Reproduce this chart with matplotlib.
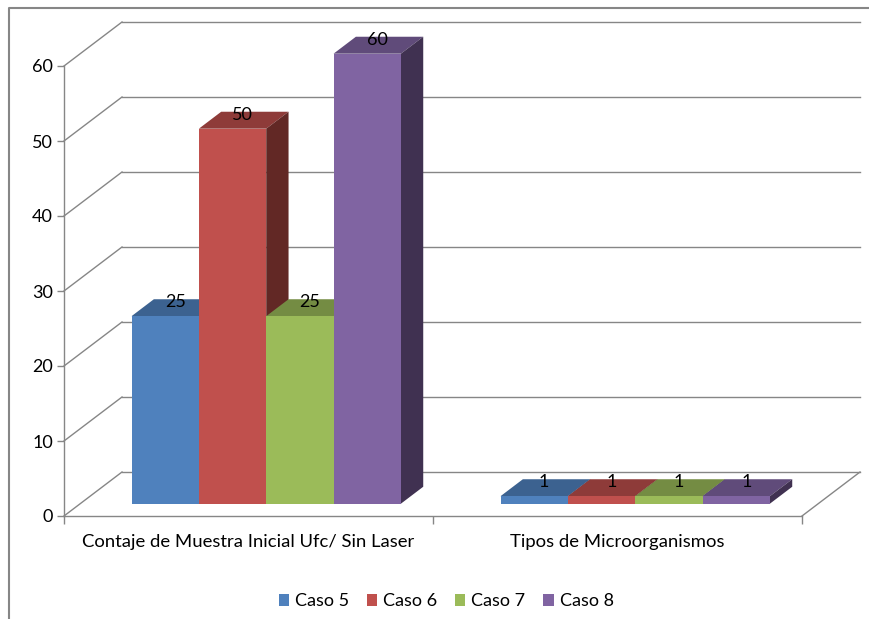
import matplotlib
matplotlib.use('Agg')
import matplotlib.pyplot as plt
from matplotlib.patches import Patch
import numpy as np

categories = ['Contaje de Muestra Inicial Ufc/ Sin Laser', 'Tipos de Microorganismos']
series_names = ['Caso 5', 'Caso 6', 'Caso 7', 'Caso 8']
caso_5 = [25, 1]
caso_6 = [50, 1]
caso_7 = [25, 1]
caso_8 = [60, 1]
yticks = [0, 10, 20, 30, 40, 50, 60]

front_colors = ['#4F81BD', '#C0504D', '#9BBB59', '#8064A2']
top_colors = ['#3C6290', '#8E3B39', '#748C43', '#604B7A']
side_colors = ['#2F4C70', '#622825', '#4F5F2D', '#403151']
LINE = '#868686'

plt.rcParams['font.family'] = ['Lato', 'DejaVu Sans']

W, H = 869, 619
X0, X1, Y0, Y1 = 64, 802, 516, 66  # front plane of the plot box, in pixels
fig = plt.figure(figsize=(W / 100, H / 100), dpi=100)
ax = fig.add_axes([X0 / W, 1 - Y0 / H, (X1 - X0) / W, (Y0 - Y1) / H])
ax.set_xlim(0, len(categories))
ax.set_ylim(0, 60)

# oblique projection: depth 0 is the front plane, depth 1 the back wall
DX = 58 * len(categories) / (X1 - X0)
DY = 44 * 60 / (Y0 - Y1)


def project(x, y, depth):
    return x + depth * DX, y + depth * DY


# back wall gridlines and their diagonals on the left side wall
for v in yticks:
    bx, by = project(0, v, 1)
    ax.plot([0, bx], [v, by], color=LINE, lw=1, clip_on=False, zorder=1)
    ax.plot([bx, project(len(categories), v, 1)[0]], [by, by], color=LINE, lw=1,
            clip_on=False, zorder=1)
ex, ey = project(len(categories), 0, 1)
ax.plot([len(categories), ex], [0, ey], color=LINE, lw=1, clip_on=False, zorder=1)

# 3D bars: front face from ax.bar, then top and side faces
bar_w = 0.1825
gap = 0.139
d_front, d_back = 0.28, 0.665
all_series = [caso_5, caso_6, caso_7, caso_8]
z = 3
for s, values in enumerate(all_series):
    for c, v in enumerate(values):
        left = c + gap + s * bar_w
        right = left + bar_w
        fx, fy = project(left, 0, d_front)
        ax.bar(fx, v, bar_w, bottom=fy, align='edge', color=front_colors[s], zorder=z + 1,
               clip_on=False)
        lf = project(left, v, d_front)
        rf = project(right, v, d_front)
        lb = project(left, v, d_back)
        rb = project(right, v, d_back)
        rf0 = project(right, 0, d_front)
        rb0 = project(right, 0, d_back)
        ax.fill(*zip(lf, rf, rb, lb), color=top_colors[s], lw=0, zorder=z, clip_on=False)
        ax.fill(*zip(rf0, rf, rb, rb0), color=side_colors[s], lw=0, zorder=z, clip_on=False)
        z += 2

# value labels sit on the top face of each bar
for s, values in enumerate(all_series):
    for c, v in enumerate(values):
        lx, ly = project(c + gap + (s + 0.5) * bar_w, v, d_front)
        ax.annotate(str(v), (lx, ly), xytext=(10, 14), textcoords='offset pixels',
                    ha='center', va='center', fontsize=13, color='black',
                    zorder=100, annotation_clip=False)

for side in ['top', 'right']:
    ax.spines[side].set_visible(False)
for side in ['left', 'bottom']:
    ax.spines[side].set_color(LINE)
    ax.spines[side].set_linewidth(1)

ax.set_yticks(yticks)
ax.tick_params(axis='y', length=5, width=1, color=LINE, labelsize=13, pad=3)
for lab in ax.get_yticklabels():
    lab.set_va('center_baseline')
ax.set_xticks(np.arange(len(categories) + 1))
ax.set_xticklabels([])
ax.set_xticks(np.arange(len(categories)) + 0.5, minor=True)
ax.set_xticklabels(categories, minor=True)
ax.tick_params(axis='x', which='major', length=6, width=1, color=LINE)
ax.tick_params(axis='x', which='minor', length=0, labelsize=13.3, pad=13)

handles = [Patch(facecolor=c, label=n) for c, n in zip(front_colors, series_names)]
fig.legend(handles=handles, loc='center', bbox_to_anchor=(446 / W, 1 - 601.5 / H), ncol=4,
           frameon=False, fontsize=13, handlelength=0.6, handleheight=0.6,
           handletextpad=0.33, columnspacing=0.95)

# outer chart frame, cut off by the image edge on the right and bottom
fig.add_artist(plt.Line2D([9 / W, 9 / W, 1], [0, 1 - 7.5 / H, 1 - 7.5 / H], color=LINE, lw=1.5))

fig.savefig('out.png', dpi=100)
